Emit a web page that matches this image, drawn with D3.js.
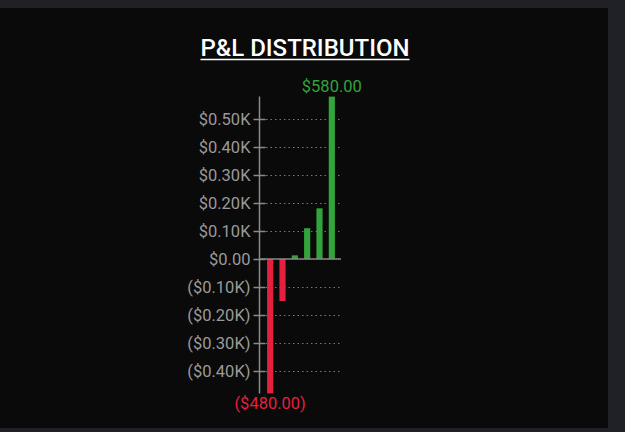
<!DOCTYPE html>
<html><head><meta charset="utf-8">
<script src="https://cdn.jsdelivr.net/npm/d3@7"></script>
<style>
html,body{margin:0;padding:0;background:#202126;}
svg{display:block;font-family:Roboto, "Noto Sans", sans-serif;}
</style></head>
<body>
<svg id="chart" width="625" height="432"></svg>
<script>
const categories = ["Bin 1","Bin 2","Bin 3","Bin 4","Bin 5","Bin 6"];
const values = [-480, -150, 13, 110, 181, 580];
const tickValues = [-400, -300, -200, -100, 0, 100, 200, 300, 400, 500];
const title = "P&L DISTRIBUTION";

const svg = d3.select("#chart");
svg.append("rect").attr("x",0).attr("y",8).attr("width",608).attr("height",420).attr("fill","#0a0a0a");

const y = d3.scaleLinear().domain([-480, 580]).range([393.4, 96.6]);
const x = d3.scaleBand().domain(categories).range([264, 338]).paddingInner(0.5).paddingOuter(0.25);

const fmt = v => {
  if (v === 0) return "$0.00";
  const s = "$" + (Math.abs(v)/1000).toFixed(2) + "K";
  return v < 0 ? "(" + s + ")" : s;
};
const fmtVal = v => {
  const s = "$" + Math.abs(v).toFixed(2);
  return v < 0 ? "(" + s + ")" : s;
};

// title
const t = svg.append("text").attr("x",305).attr("y",56).attr("text-anchor","middle")
  .attr("fill","#ffffff").attr("font-size",24).attr("font-weight",500).text(title);
const bb = t.node().getBBox();
svg.append("line").attr("x1",bb.x).attr("x2",bb.x+bb.width).attr("y1",59.5).attr("y2",59.5)
  .attr("stroke","#ffffff").attr("stroke-width",1.5);

// gridlines
svg.append("g").selectAll("line").data(tickValues.filter(d=>d!==0)).join("line")
  .attr("x1",266).attr("x2",340).attr("y1",d=>Math.round(y(d))+0.5).attr("y2",d=>Math.round(y(d))+0.5)
  .attr("stroke","#777").attr("stroke-width",1).attr("stroke-dasharray","1.5,3");

// axis
const axis = d3.axisLeft(y).tickValues(tickValues).tickFormat(fmt).tickSize(6).tickPadding(3);
const ag = svg.append("g").attr("transform","translate(259.5,0)").call(axis);
ag.select(".domain").attr("stroke","#8a8a8a").attr("stroke-width",1.5).attr("d", `M0,${y(580)}V${y(-480)}`);
ag.selectAll(".tick line").attr("stroke","#8a8a8a").attr("stroke-width",1.5).attr("x1",-6).attr("x2",6);
ag.selectAll(".tick text").attr("fill","#9a9a9a").attr("font-size",16.5).attr("font-family","Roboto");

// bars
svg.append("g").selectAll("rect").data(values).join("rect")
  .attr("x",(d,i)=>x(categories[i])).attr("width",x.bandwidth())
  .attr("y",d=>Math.min(y(d),y(0))).attr("height",d=>Math.abs(y(d)-y(0)))
  .attr("fill",d=>d<0?"#e5203f":"#33a33b");

// zero line
svg.append("line").attr("x1",259).attr("x2",341).attr("y1",y(0)).attr("y2",y(0))
  .attr("stroke","#8a8a8a").attr("stroke-width",1.5);

// value labels for extremes
const maxI = values.indexOf(d3.max(values)), minI = values.indexOf(d3.min(values));
svg.append("text").attr("x",x(categories[maxI])+x.bandwidth()/2).attr("y",y(values[maxI])-5)
  .attr("text-anchor","middle").attr("fill","#33a33b").attr("font-size",16.5).text(fmtVal(values[maxI]));
svg.append("text").attr("x",x(categories[minI])+x.bandwidth()/2).attr("y",y(values[minI])+16)
  .attr("text-anchor","middle").attr("fill","#e5203f").attr("font-size",16.5).text(fmtVal(values[minI]));
</script>
</body></html>
